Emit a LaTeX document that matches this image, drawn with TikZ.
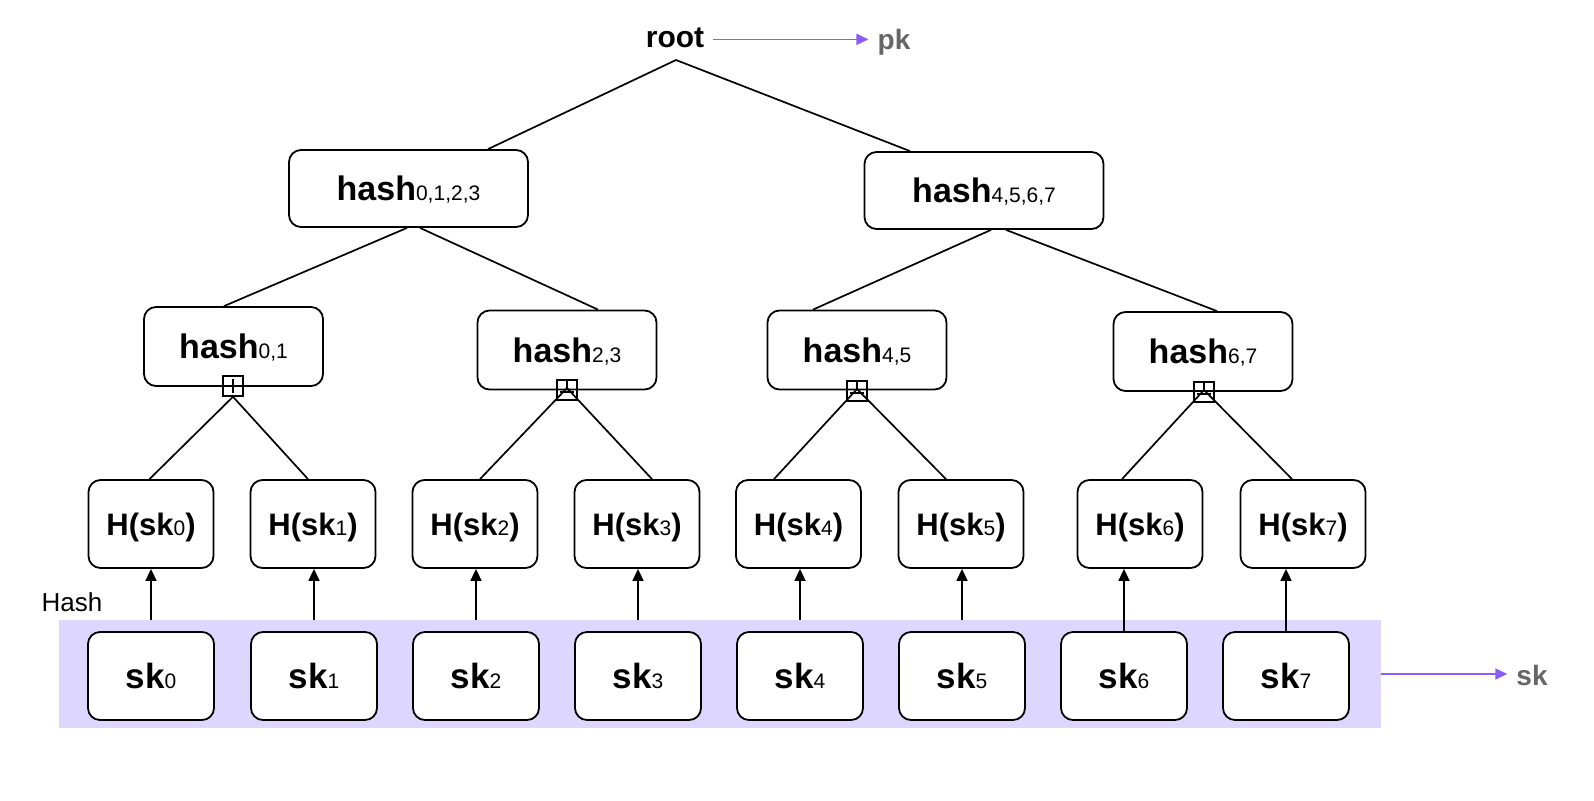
\documentclass[tikz,border=0pt]{standalone}
\usepackage{fontspec}
\setmainfont{Liberation Sans}
\usetikzlibrary{arrows.meta}
\definecolor{bandcol}{HTML}{DDD6FE}
\definecolor{vio}{HTML}{8B5CF6}
\definecolor{gry}{HTML}{666666}
\newcommand\subtx[1]{{\fontsize{21}{21}\selectfont\mdseries #1}}
\begin{document}
\begin{tikzpicture}[x=1pt,y=-1pt,
  box/.style={draw, line width=1.8pt, rounded corners=12pt, fill=white, inner sep=0pt, text depth=0pt, font=\fontsize{34}{36}\selectfont\bfseries},
  topbox/.style={box, minimum width=239pt, minimum height=77pt},
  midbox/.style={box, minimum width=179pt, minimum height=79pt},
  hbox/.style={box, minimum width=125pt, minimum height=88pt, font=\fontsize{31}{34}\selectfont\bfseries},
  skbox/.style={box, minimum width=126pt, minimum height=88pt, font=\fontsize{35}{36}\selectfont\bfseries},
  edge/.style={line width=1.7pt},
  up/.style={line width=1.7pt, -{Triangle[length=12pt,width=11pt]}},
  vioarrow/.style={vio, line width=1.7pt, -{Triangle[length=12pt,width=11pt]}},
  joinbox/.style={draw, line width=1.5pt, minimum size=20pt, inner sep=0pt},
  lab/.style={inner sep=0pt, anchor=base, font=\fontsize{30}{34}\selectfont\bfseries},
]
\useasboundingbox (0,0) rectangle (1594,800);

% band
\node[fill=bandcol, minimum width=1322pt, minimum height=108pt, inner sep=0pt] (band) at (720,674) {};

% top labels
\node[lab] (root) at (675,48) {root};
\node[lab, text=gry, font=\fontsize{28}{32}\selectfont\bfseries] (pk) at (894,49) {pk};
\draw[vioarrow] ([xshift=9pt,yshift=-1pt]root.east) -- ([xshift=-9pt,yshift=-1pt]root.east -| pk.west);

\node[lab, font=\fontsize{26}{30}\selectfont] (hashlab) at (72,611) {Hash};
\node[lab, text=gry, font=\fontsize{28}{32}\selectfont\bfseries] (sklab) at (1532,685) {sk};
\draw[vioarrow] (band.east) -- ([xshift=-9pt]band.east -| sklab.west);

% boxes
\node[topbox] (h0123) at (408.5,188.5) {hash\subtx{0,1,2,3}};
\node[topbox] (h4567) at (984,190.5) {hash\subtx{4,5,6,7}};
\node[midbox] (h01) at (233.5,346.5) {hash\subtx{0,1}};
\node[midbox] (h23) at (567,350) {hash\subtx{2,3}};
\node[midbox] (h45) at (857,350) {hash\subtx{4,5}};
\node[midbox] (h67) at (1203,351.5) {hash\subtx{6,7}};

\foreach \i/\hx/\sx in {0/151/151, 1/313/314, 2/475/476, 3/637/638, 4/798.5/800, 5/961/962, 6/1140/1124, 7/1303/1286} {
  \node[hbox] (H\i) at (\hx,524) {H(sk\subtx{\i})};
  \node[skbox] (s\i) at (\sx,676) {sk\subtx{\i}};
}

% root edges
\coordinate (rj) at (676,60);
\draw[edge] ([xshift=79.5pt]h0123.north) -- (rj) -- ([xshift=-74pt]h4567.north);

% level 1 -> level 2
\draw[edge] ([xshift=-1.5pt]h0123.south) -- ([xshift=-9.5pt]h01.north);
\draw[edge] ([xshift=11.5pt]h0123.south) -- ([xshift=31pt]h23.north);
\draw[edge] ([xshift=7pt]h4567.south) -- ([xshift=-44pt]h45.north);
\draw[edge] ([xshift=22pt]h4567.south) -- ([xshift=14pt]h67.north);

% join squares
\node[joinbox] (q1) at (233,386) {};
\node[joinbox] (q2) at (567,390) {};
\node[joinbox] (q3) at (857,391) {};
\node[joinbox] (q4) at (1204,392) {};
\draw[line width=1.3pt] ([yshift=-4pt]q1.north) -- ([yshift=4pt]q1.south) ([xshift=4pt]q1.west) -- ([xshift=-4pt]q1.east);
\foreach \q in {q2,q3,q4} {
  \draw[line width=1.3pt] (\q.north) -- ([yshift=2pt]\q.center) ([xshift=4pt,yshift=-2pt]\q.west) -- ([xshift=-4pt,yshift=-2pt]\q.east);
}

% squares -> H boxes
\draw[edge] ([xshift=-1.5pt]H0.north) -- (q1.south) -- ([xshift=-5pt]H1.north);
\draw[edge] ([xshift=5pt]H2.north) -- ([yshift=2pt]q2.center) -- ([xshift=15pt]H3.north);
\draw[edge] ([xshift=-24.5pt]H4.north) -- ([yshift=2pt]q3.center) -- ([xshift=-15pt]H5.north);
\draw[edge] ([xshift=-18pt]H6.north) -- ([yshift=2pt]q4.center) -- ([xshift=-11pt]H7.north);

% sk -> H arrows
\foreach \i in {0,1,2,3,4,5} {
  \draw[up] (s\i.north |- band.north) -- (s\i.north |- H\i.south);
}
\foreach \i in {6,7} {
  \draw[up] (s\i.north) -- (s\i.north |- H\i.south);
}
\end{tikzpicture}
\end{document}
